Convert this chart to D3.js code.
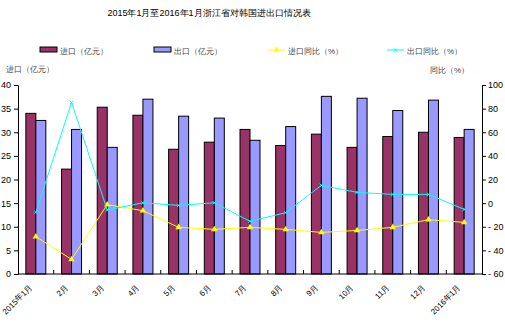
<!DOCTYPE html>
<html>
<head>
<meta charset="utf-8">
<script src="https://cdn.jsdelivr.net/npm/d3@7"></script>
<style>
body { margin: 0; background: #fff; }
text { font-family: "Liberation Sans", Arial, sans-serif; }
</style>
</head>
<body>
<div id="chart"></div>
<script>
const months = ["2015年1月", "2月", "3月", "4月", "5月", "6月", "7月", "8月", "9月", "10月", "11月", "12月", "2016年1月"];
const imports = [34.0, 22.2, 35.3, 33.6, 26.4, 27.9, 30.6, 27.2, 29.6, 26.8, 29.1, 30.0, 28.9];
const exports = [32.5, 30.6, 26.8, 37.0, 33.4, 33.0, 28.3, 31.2, 37.6, 37.2, 34.6, 36.8, 30.6];
const importYoY = [-28.4, -47.6, -1.3, -6.4, -20.5, -22.2, -20.5, -22.2, -24.8, -23.1, -20.5, -14.0, -16.3];
const exportYoY = [-7.8, 85.3, -5.8, 0.3, -1.9, 0.3, -15.4, -8.1, 15.1, 9.1, 7.4, 7.4, -5.3];
const leftTicks = [0, 5, 10, 15, 20, 25, 30, 35, 40];
const rightTicks = [-60, -40, -20, 0, 20, 40, 60, 80, 100];

const margin = { top: 85, right: 23, bottom: 50, left: 18 },
      width = 505 - margin.left - margin.right,
      height = 324 - margin.top - margin.bottom;

const root = d3.select("#chart").append("svg")
    .attr("width", 505)
    .attr("height", 324);

root.append("text")
    .attr("x", 209).attr("y", 16)
    .attr("text-anchor", "middle")
    .style("font-size", "9px")
    .attr("fill", "#000")
    .text("2015年1月至2016年1月浙江省对韩国进出口情况表");

// legend
const legend = root.append("g").attr("transform", "translate(0,50)");
const legendItems = [
    { label: "进口（亿元）", type: "bar", color: "#993366", x: 40 },
    { label: "出口（亿元）", type: "bar", color: "#9999ff", x: 154 },
    { label: "进口同比（%）", type: "tri", color: "#ffff00", x: 268 },
    { label: "出口同比（%）", type: "x", color: "#00ffff", x: 387 }
];
legendItems.forEach(d => {
    const g = legend.append("g").attr("transform", `translate(${d.x},0)`);
    if (d.type === "bar") {
        g.append("rect").attr("x", 0).attr("y", -3).attr("width", 17).attr("height", 5)
            .attr("fill", d.color).attr("stroke", "#000").attr("stroke-width", 1);
    } else {
        g.append("line").attr("x1", 0).attr("x2", 17).attr("y1", 0).attr("y2", 0)
            .attr("stroke", d.color).attr("stroke-width", 1);
        if (d.type === "tri") {
            g.append("path").attr("d", d3.symbol(d3.symbolTriangle, 14)()).attr("transform", "translate(8.5,-0.5)")
                .attr("fill", d.color);
        } else {
            g.append("path").attr("d", d3.symbol(d3.symbolX, 8)()).attr("transform", "translate(8.5,0)")
                .attr("stroke", d.color).attr("fill", "none");
        }
    }
    g.append("text").attr("x", 20).attr("y", 3.5)
        .style("font-size", "8px").attr("fill", "#444")
        .text(d.label);
});

root.append("text").attr("x", 6).attr("y", 72)
    .style("font-size", "8px").attr("fill", "#444").text("进口（亿元）");
root.append("text").attr("x", 430).attr("y", 73)
    .style("font-size", "8px").attr("fill", "#444").text("同比（%）");

const svg = root.append("g")
    .attr("transform", `translate(${margin.left},${margin.top})`);

const x = d3.scaleBand().domain(months).range([0, width]);
const y = d3.scaleLinear().domain([0, 40]).range([height, 0]);
const y2 = d3.scaleLinear().domain([-60, 100]).range([height, 0]);
const barW = 10;

// bars
svg.selectAll(".imp").data(imports).enter().append("rect")
    .attr("x", (d, i) => x(months[i]) + x.bandwidth() / 2 - barW)
    .attr("y", d => y(d))
    .attr("width", barW)
    .attr("height", d => height - y(d))
    .attr("fill", "#993366").attr("stroke", "#000").attr("stroke-width", 1);

svg.selectAll(".exp").data(exports).enter().append("rect")
    .attr("x", (d, i) => x(months[i]) + x.bandwidth() / 2)
    .attr("y", d => y(d))
    .attr("width", barW)
    .attr("height", d => height - y(d))
    .attr("fill", "#9999ff").attr("stroke", "#000").attr("stroke-width", 1);

// axes
svg.append("g")
    .call(d3.axisLeft(y).tickValues(leftTicks).tickSize(4).tickPadding(3))
    .call(g => g.selectAll("text").style("font-size", "9px").attr("fill", "#000"));

svg.append("g")
    .attr("transform", `translate(${width},0)`)
    .call(d3.axisRight(y2).tickValues(rightTicks).tickSize(4).tickPadding(2).tickFormat(d => d < 0 ? "- " + Math.abs(d) : d))
    .call(g => g.selectAll("text").style("font-size", "9px").attr("fill", "#000"));

const xAxis = svg.append("g").attr("transform", `translate(0,${height})`);
xAxis.append("line").attr("x1", 0).attr("x2", width).attr("stroke", "#000");
xAxis.selectAll(".tk").data(months.slice(1)).enter().append("line")
    .attr("x1", d => x(d)).attr("x2", d => x(d))
    .attr("y1", 0).attr("y2", -4).attr("stroke", "#000");
xAxis.selectAll(".lbl").data(months).enter().append("text")
    .attr("transform", d => `translate(${x(d) + x.bandwidth() / 2 - 3},14) rotate(-45)`)
    .attr("text-anchor", "end")
    .style("font-size", "8px").attr("fill", "#000")
    .text(d => d);

// lines
const line = d3.line()
    .x((d, i) => x(months[i]) + x.bandwidth() / 2)
    .y(d => y2(d));

svg.append("path").datum(importYoY).attr("d", line)
    .attr("fill", "none").attr("stroke", "#ffff00").attr("stroke-width", 1);
svg.selectAll(".tri").data(importYoY).enter().append("path")
    .attr("d", d3.symbol(d3.symbolTriangle, 18)())
    .attr("transform", (d, i) => `translate(${x(months[i]) + x.bandwidth() / 2},${y2(d)})`)
    .attr("fill", "#ffff00");

svg.append("path").datum(exportYoY).attr("d", line)
    .attr("fill", "none").attr("stroke", "#00ffff").attr("stroke-width", 1);
svg.selectAll(".xm").data(exportYoY).enter().append("path")
    .attr("d", d3.symbol(d3.symbolX, 8)())
    .attr("transform", (d, i) => `translate(${x(months[i]) + x.bandwidth() / 2},${y2(d)})`)
    .attr("fill", "none").attr("stroke", "#00ffff");
</script>
</body>
</html>
